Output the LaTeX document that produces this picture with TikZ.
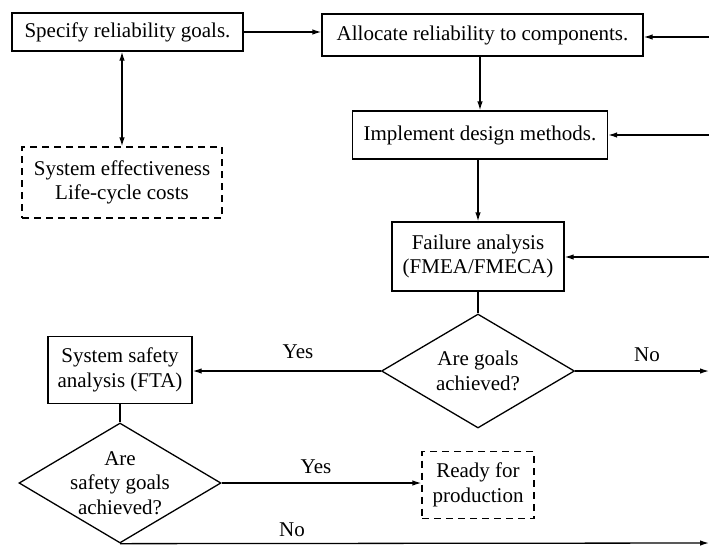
\documentclass[tikz,border=0pt]{standalone}
\usepackage{fontspec}
\setmainfont{Liberation Serif}
\usetikzlibrary{arrows.meta,shapes.geometric}
\begin{document}
\begin{tikzpicture}[x=1pt,y=-1pt,
  every node/.style={font=\fontsize{21}{24.5}\selectfont, align=center, inner sep=0pt},
  box/.style={draw, line width=1.3pt, rectangle},
  dbox/.style={draw, line width=1.3pt, rectangle, dash pattern=on 7pt off 5pt},
  decision/.style={draw, line width=1.3pt, diamond, aspect=1.7, inner sep=-8pt},
  link/.style={line width=1.3pt},
  arrow/.style={link, -{Latex[length=9pt,width=5.5pt]}},
  both/.style={link, {Latex[length=9pt,width=5.5pt]}-{Latex[length=9pt,width=5.5pt]}},
  lbl/.style={font=\fontsize{21}{24.5}\selectfont}
]
\useasboundingbox (0,0) rectangle (709,550);

% process boxes
\node[box, minimum width=231pt, minimum height=38pt] (spec) at (127.5,32) {Specify reliability goals.};
\node[box, minimum width=321pt, minimum height=42pt] (alloc) at (482.5,35) {Allocate reliability to components.};
\node[dbox, minimum width=200pt, minimum height=71pt] (eff) at (122,182.5) {System effectiveness\\Life-cycle costs};
\node[box, minimum width=255pt, minimum height=48pt] (impl) at (480,135) {Implement design methods.};
\node[box, minimum width=172pt, minimum height=69pt] (fail) at (478,256.5) {Failure analysis\\(FMEA/FMECA)};

% decisions
\node[decision, minimum width=193pt, minimum height=114pt] (goals) at (478,371) {Are goals\\achieved?};
\node[box, minimum width=144pt, minimum height=67pt] (fta) at (120,370) {System safety\\analysis (FTA)};
\node[decision, aspect=1.68, minimum width=202pt, minimum height=120pt] (safe) at (120,483) {Are\\safety goals\\achieved?};
\node[dbox, minimum width=112pt, minimum height=67pt] (ready) at (478,485) {Ready for\\production};

% loose ends at the right margin
\coordinate (r1) at (709,37);
\coordinate (r2) at (709,135);
\coordinate (r3) at (709,257);
\coordinate (r4) at (709,371);
\coordinate (r5) at (709,543);

% connectors
\draw[arrow] (spec.east) -- (spec.east -| alloc.west);
\draw[both] (spec.south -| eff.north) -- (eff.north);
\draw[arrow] (alloc.south -| impl.north) -- (impl.north);
\draw[arrow] (impl.south -| fail.north) -- (fail.north);
\draw[link] (fail.south) -- (goals.north);
\draw[arrow] (r1) -- (r1 -| alloc.east);
\draw[arrow] (r2) -- (r2 -| impl.east);
\draw[arrow] (r3) -- (r3 -| fail.east);

\draw[arrow] (goals.west) -- (goals.west -| fta.east);
\draw[arrow] (goals.east) -- (r4);
\draw[link] (fta.south) -- (safe.north);
\draw[arrow] (safe.east) -- (safe.east -| ready.west);
\draw[arrow] (safe.south) -- (r5);

% branch labels
\node[lbl] (y1) at (298,352) {Yes};
\node[lbl] (n1) at (647,355) {No};
\node[lbl] (y2) at (316,467) {Yes};
\node[lbl] (n2) at (292,530) {No};
\end{tikzpicture}
\end{document}
